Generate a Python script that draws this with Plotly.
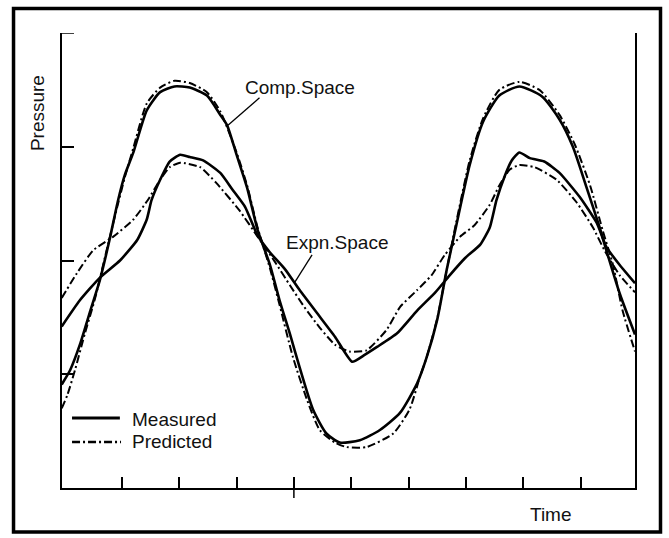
import plotly.graph_objects as go

# crank angle (deg) and pressure (arbitrary units)
comp_meas_x = [-3, 6, 16, 27, 37, 47, 56, 63, 72, 86, 100, 115, 131, 149, 163, 170, 180, 191, 202, 215, 225, 236, 246, 260, 274, 288, 309, 330, 351, 369, 379, 390, 400, 410, 424, 438, 455, 476, 500, 518, 532, 546, 560, 567, 581, 597]
comp_meas_y = [0.91, 1.04, 1.26, 1.56, 1.83, 2.18, 2.53, 2.75, 2.95, 3.32, 3.48, 3.53, 3.52, 3.45, 3.28, 3.19, 2.93, 2.64, 2.27, 1.96, 1.65, 1.35, 1.06, 0.69, 0.48, 0.40, 0.42, 0.51, 0.66, 0.92, 1.15, 1.48, 1.92, 2.31, 2.84, 3.22, 3.45, 3.53, 3.44, 3.24, 3.00, 2.65, 2.29, 2.09, 1.71, 1.35]

comp_pred_x = [-3, 3, 11, 21, 32, 42, 53, 63, 72, 86, 100, 115, 131, 149, 163, 180, 191, 202, 215, 225, 239, 254, 267, 283, 295, 316, 344, 361, 372, 379, 390, 400, 410, 424, 438, 455, 476, 497, 518, 534, 550, 563, 574, 584, 597]
comp_pred_y = [0.70, 0.82, 1.04, 1.35, 1.67, 2.02, 2.40, 2.73, 2.99, 3.38, 3.52, 3.58, 3.56, 3.48, 3.31, 2.95, 2.66, 2.29, 1.93, 1.61, 1.15, 0.77, 0.51, 0.40, 0.36, 0.36, 0.48, 0.69, 0.98, 1.15, 1.49, 1.92, 2.34, 2.88, 3.25, 3.50, 3.57, 3.50, 3.28, 3.02, 2.66, 2.27, 1.96, 1.56, 1.20]

expn_meas_x = [-3, 16, 37, 58, 76, 86, 91, 100, 110, 121, 131, 145, 163, 176, 189, 202, 215, 231, 246, 264, 283, 301, 314, 327, 348, 369, 388, 403, 419, 435, 445, 452, 461, 468, 476, 487, 502, 518, 539, 557, 567, 581, 597]
expn_meas_y = [1.42, 1.65, 1.85, 2.00, 2.18, 2.36, 2.53, 2.71, 2.87, 2.93, 2.91, 2.88, 2.77, 2.62, 2.47, 2.22, 2.07, 1.92, 1.74, 1.54, 1.33, 1.11, 1.17, 1.24, 1.36, 1.56, 1.72, 1.87, 2.02, 2.14, 2.29, 2.53, 2.75, 2.88, 2.95, 2.90, 2.87, 2.77, 2.56, 2.33, 2.12, 1.96, 1.80]

expn_pred_x = [-3, 13, 30, 51, 72, 87, 100, 110, 121, 142, 159, 183, 202, 220, 236, 251, 267, 283, 298, 316, 337, 351, 369, 384, 398, 414, 429, 445, 455, 466, 476, 492, 515, 536, 553, 565, 581, 597]
expn_pred_y = [1.67, 1.89, 2.09, 2.21, 2.36, 2.53, 2.71, 2.82, 2.86, 2.82, 2.68, 2.44, 2.21, 1.99, 1.78, 1.59, 1.41, 1.26, 1.20, 1.21, 1.39, 1.59, 1.74, 1.87, 2.05, 2.21, 2.31, 2.49, 2.66, 2.80, 2.84, 2.82, 2.71, 2.51, 2.29, 2.09, 1.87, 1.72]

x_ticks = [60, 120, 180, 240, 300, 360, 420, 480, 540]
y_ticks = [1, 2, 3, 4]

SOLID = dict(color="black", width=2.6)
DASHDOT = dict(color="black", width=2, dash="8px,3px,2px,3px")
FONT = dict(family="Liberation Sans, Arial, sans-serif", size=19, color="#111")

fig = go.Figure()
fig.add_trace(go.Scatter(x=comp_meas_x, y=comp_meas_y, mode="lines", line=dict(**SOLID, shape="spline", smoothing=0.6)))
fig.add_trace(go.Scatter(x=comp_pred_x, y=comp_pred_y, mode="lines", line=dict(**DASHDOT, shape="spline", smoothing=0.6)))
fig.add_trace(go.Scatter(x=expn_meas_x, y=expn_meas_y, mode="lines", line=dict(**SOLID, shape="spline", smoothing=0.5)))
fig.add_trace(go.Scatter(x=expn_pred_x, y=expn_pred_y, mode="lines", line=dict(**DASHDOT, shape="spline", smoothing=0.5)))

shapes = [
    # outer frame
    dict(type="rect", xref="paper", yref="paper", x0=-0.0846, x1=1.0445, y0=-0.0967, y1=1.0538,
         line=dict(color="black", width=3.5), layer="above"),
    # long tick at 240
    dict(type="line", xref="x", yref="paper", x0=240, x1=240, y0=-0.022, y1=0.024,
         line=dict(color="black", width=1.5)),
    # top tick on the pressure axis
    dict(type="line", xref="paper", yref="y", x0=0, x1=0.021, y0=4, y1=4,
         line=dict(color="black", width=1.5)),
    # leader lines
    dict(type="line", xref="x", yref="y", x0=171, y0=3.19, x1=204, y1=3.43, line=dict(color="black", width=1.3)),
    dict(type="line", xref="x", yref="y", x0=241, y0=1.81, x1=259, y1=2.05, line=dict(color="black", width=1.3)),
    # legend samples
    dict(type="line", xref="paper", yref="paper", x0=0.0175, x1=0.101, y0=0.154, y1=0.154,
         line=dict(color="black", width=3)),
    dict(type="line", xref="paper", yref="paper", x0=0.0175, x1=0.103, y0=0.101, y1=0.101,
         line=dict(color="black", width=2.5, dash="8px,3px,2px,3px")),
]

annotations = [
    dict(text="Comp.Space", x=246, y=3.52, xref="x", yref="y", showarrow=False, font=FONT,
         xanchor="center", yanchor="middle"),
    dict(text="Expn.Space", x=285, y=2.16, xref="x", yref="y", showarrow=False, font=FONT,
         xanchor="center", yanchor="middle"),
    dict(text="Measured", x=0.119, y=0.151, xref="paper", yref="paper", xanchor="left", yanchor="middle",
         showarrow=False, font=FONT),
    dict(text="Predicted", x=0.119, y=0.103, xref="paper", yref="paper", xanchor="left", yanchor="middle",
         showarrow=False, font=FONT),
    dict(text="Pressure", x=-0.0436, y=0.824, xref="paper", yref="paper", textangle=-90, showarrow=False,
         font=FONT, xanchor="center", yanchor="middle"),
    dict(text="Time", x=0.853, y=-0.059, xref="paper", yref="paper", showarrow=False, font=FONT,
         xanchor="center", yanchor="middle"),
]

fig.update_layout(
    width=669, height=538,
    margin=dict(l=62, r=34, t=33, b=50),
    paper_bgcolor="white", plot_bgcolor="white",
    showlegend=False,
    shapes=shapes, annotations=annotations,
    xaxis=dict(range=[-2.7, 597], showgrid=False, zeroline=False, showline=True, linecolor="black",
               linewidth=1.5, ticks="inside", ticklen=11, tickwidth=1.5, tickcolor="black",
               tickvals=x_ticks, showticklabels=False),
    yaxis=dict(range=[0, 4], showgrid=False, zeroline=False, showline=True, mirror=True, linecolor="black",
               linewidth=1.5, ticks="inside", ticklen=12, tickwidth=1.5, tickcolor="black",
               tickvals=y_ticks, showticklabels=False),
)

fig.write_html("out.html")
